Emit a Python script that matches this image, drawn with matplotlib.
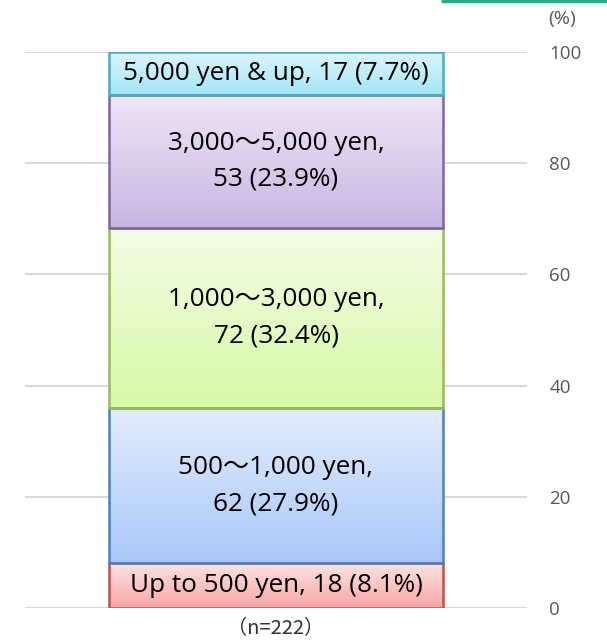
import numpy as np
import matplotlib
matplotlib.use("Agg")
import matplotlib.pyplot as plt
from matplotlib.colors import LinearSegmentedColormap

# Spending brackets, bottom to top
labels = [
    "Up to 500 yen, 18 (8.1%)",
    "500～1,000 yen,\n62 (27.9%)",
    "1,000～3,000 yen,\n72 (32.4%)",
    "3,000～5,000 yen,\n53 (23.9%)",
    "5,000 yen & up, 17 (7.7%)",
]
counts = [18, 62, 72, 53, 17]
shares = [8.1, 27.9, 32.4, 23.9, 7.7]
yticks = [0, 20, 40, 60, 80, 100]

# (top colour, bottom colour, edge colour) for each segment
top_colors = ["#fde4e4", "#e3edfd", "#f2fde6", "#eee6f6", "#dcf5fc"]
bottom_colors = ["#f8a6a6", "#a9c7f8", "#d8f9a6", "#c9b5e2", "#a4e5f7"]
edge_colors = ["#c0504d", "#4f81bd", "#9bbb59", "#8064a2", "#4bacc6"]

FONT = ["Open Sans", "Noto Sans CJK JP", "DejaVu Sans"]

fig = plt.figure(figsize=(6.07, 6.40), dpi=100)
ax = fig.add_axes([25 / 607, 32 / 640, 502 / 607, 556 / 640])

bar_w = 1.0
bottoms = np.concatenate([[0], np.cumsum(shares)[:-1]])
bars = ax.bar([0] * len(shares), shares, bottom=bottoms, width=bar_w,
              color="none", edgecolor=edge_colors, linewidth=1.8, zorder=3)

# vertical gradient fills clipped to each segment
for rect, top_c, bot_c in zip(bars, top_colors, bottom_colors):
    cmap = LinearSegmentedColormap.from_list("seg", [bot_c, top_c])
    grad = np.linspace(0, 1, 256).reshape(-1, 1)
    x0, y0 = rect.get_x(), rect.get_y()
    im = ax.imshow(grad, cmap=cmap, origin="lower", aspect="auto",
                   extent=[x0, x0 + rect.get_width(), y0, y0 + rect.get_height()],
                   zorder=2, interpolation="bicubic")
    im.set_clip_path(rect)

ax.set_xlim(-0.75, 0.75)
ax.set_ylim(0, 100)

for b, s, lab in zip(bottoms, shares, labels):
    ax.text(0, b + s / 2, lab, ha="center", va="center", fontsize=18.8,
            family=FONT, color="black", linespacing=1.6, zorder=4)

ax.set_yticks(yticks)
ax.yaxis.tick_right()
ax.tick_params(axis="y", length=0, pad=16, labelsize=13.5, labelcolor="#595959")
for t in ax.get_yticklabels():
    t.set_family(FONT)
    t.set_horizontalalignment("left")
ax.set_xticks([])
ax.grid(axis="y", color="#d9d9d9", linewidth=1.5, zorder=0)
for sp in ax.spines.values():
    sp.set_visible(False)

fig.text(548 / 607, 1 - 19 / 640, "(%)", ha="left", va="center",
         fontsize=14, color="#595959", family=FONT)
fig.text(276 / 607, 1 - 629 / 640, "（n=222）", ha="center", va="center",
         fontsize=14.5, color="#333333", family=["Noto Sans CJK JP", "DejaVu Sans"])

# thin accent rule along the top right edge
fig.add_artist(plt.Line2D([443 / 607, 1.0], [1 - 1 / 640, 1 - 1 / 640],
                          transform=fig.transFigure, color="#22ad8c", linewidth=2.5))

fig.savefig("out.png", dpi=100)
